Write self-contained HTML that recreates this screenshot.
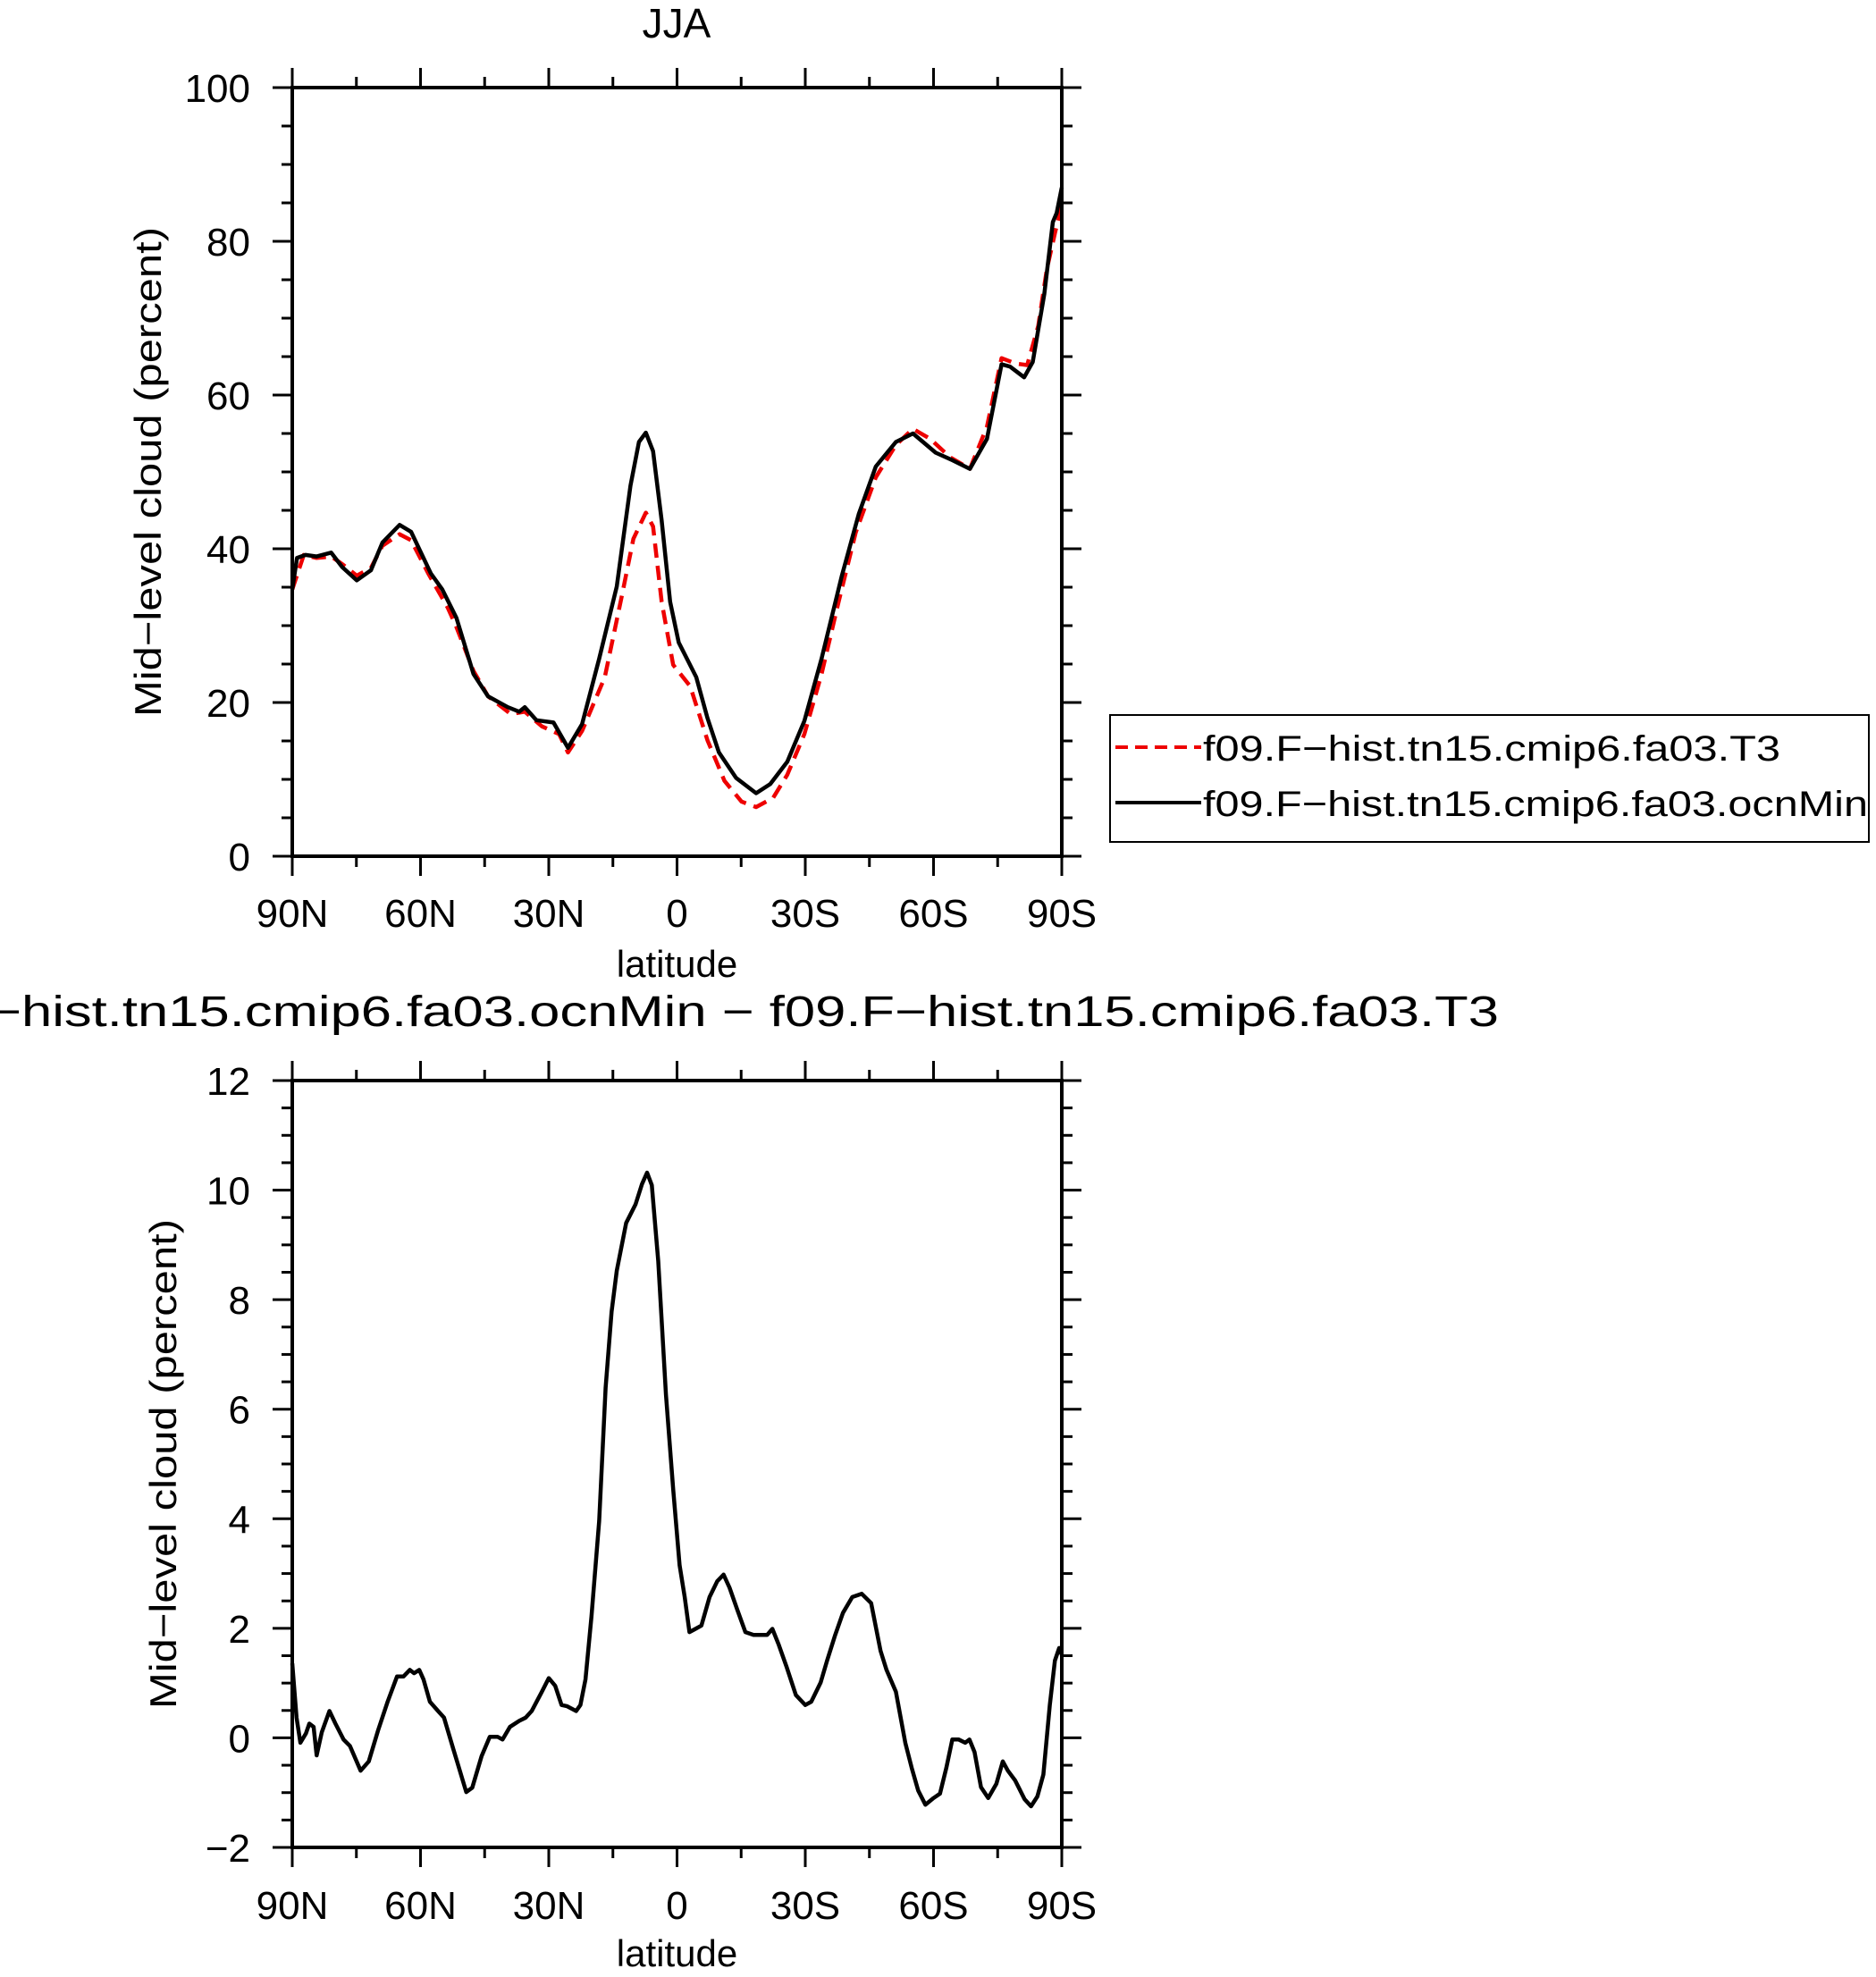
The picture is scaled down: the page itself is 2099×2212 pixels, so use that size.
<!DOCTYPE html>
<html><head><meta charset="utf-8"><style>
html,body{margin:0;padding:0;background:#fff;}
svg{display:block;}
text{font-family:"Liberation Sans",sans-serif;fill:#000;}
</style></head><body>
<svg id="fig" width="2099" height="2212" viewBox="0 0 2099 2212" xmlns="http://www.w3.org/2000/svg">
<g id="top"></g>
<g id="bot"></g>
<g id="legend">
  <rect x="1242" y="800" width="849" height="142" fill="none" stroke="#000" stroke-width="2"/>
  <line x1="1248" y1="836" x2="1344" y2="836" stroke="#e00" stroke-width="4" stroke-dasharray="14,8"/>
  <text x="1346" y="851" font-size="40" textLength="646" lengthAdjust="spacingAndGlyphs">f09.F−hist.tn15.cmip6.fa03.T3</text>
  <line x1="1248" y1="898" x2="1344" y2="898" stroke="#000" stroke-width="4"/>
  <text x="1346" y="913" font-size="40" textLength="744" lengthAdjust="spacingAndGlyphs">f09.F−hist.tn15.cmip6.fa03.ocnMin</text>
</g>
<text x="757" y="42" font-size="46" text-anchor="middle">JJA</text>
<text x="-12" y="1148" font-size="48" textLength="1689" lengthAdjust="spacingAndGlyphs">−hist.tn15.cmip6.fa03.ocnMin − f09.F−hist.tn15.cmip6.fa03.T3</text>
</svg>
<script>
// Top panel data
const topBlackLat = [90,88.9,86.9,84.3,80.9,78.3,74.9,71.6,68.9,64.9,62.2,57.6,54.9,51.6,47.6,44.2,39.6,36.9,35.6,32.9,28.9,25.5,22.2,18.2,14.1,10.9,8.9,7.3,5.6,3.6,1.6,-0.4,-4.5,-7.1,-9.8,-13.8,-18.5,-21.8,-25.8,-29.8,-33.8,-38.5,-42.5,-46.5,-51.2,-55.2,-60.5,-64.5,-68.5,-72.5,-75.9,-77.9,-81.2,-83.2,-85.9,-87.9,-88.8,-90];
const topBlackVal = [34.7,38.8,39.2,39,39.5,37.6,35.9,37.2,40.8,43.1,42.2,36.8,34.7,31,23.7,20.8,19.4,18.8,19.4,17.7,17.4,14.1,17.2,25.7,35.1,48.2,53.9,55.1,52.7,43.7,33.1,27.8,23.3,18,13.5,10.2,8.2,9.4,12.3,17.6,25.7,36.4,44.5,50.7,53.9,55,52.5,51.5,50.4,54.3,64,63.7,62.3,64.3,73.1,82.5,83.7,87];
const topRedLat = [90,87.3,84.3,80.9,78.3,74.9,71.6,68.9,64.9,62.2,58.2,53.6,51.6,47.6,44.2,38.9,35.6,31.6,27.6,25.5,22.2,16.9,12.9,10.2,7.3,5.6,3.6,0.9,-3.1,-7.1,-11.1,-15.1,-18.5,-22.5,-25.8,-29.8,-33.8,-37.8,-41.8,-46.5,-51.2,-55.2,-59.2,-63.9,-68.5,-72.5,-75.9,-79.2,-81.9,-84.5,-86.5,-88.5,-90];
const topRedVal = [34.7,39.2,38.8,39,38,36.5,37.5,40.4,41.9,41.1,36.8,32.3,29.8,24.1,20.8,18.5,18.8,16.9,15.9,13.5,16.3,23.3,33.9,41.3,44.7,42.9,33.1,24.9,22.1,15.1,9.8,7.1,6.4,7.6,10.6,15.9,23.7,33.1,42.1,49.3,53.5,55.6,54.3,51.9,50.4,55.9,64.8,64.1,63.9,69,76.4,81.3,84.6];
// Difference panel data
const diffLat = [90,89,88.1,86.8,86,85,84.3,83.1,81.3,79.9,78,76.5,74,72.1,69.9,67.7,65.5,64,62.5,61.5,60.3,59.3,57.8,55.9,54.5,52.3,49.3,47.9,45.7,43.8,42,40.8,39.1,36.9,35.4,34,31.7,30,28.5,27,25.8,23.6,22.6,21.4,20,18.2,16.7,15.3,14.1,11.9,9.7,8.2,7,5.9,4.4,2.6,0.9,-0.6,-1.8,-2.9,-4.3,-5.7,-7.6,-9.4,-10.9,-12.3,-14.1,-16,-17.9,-19.7,-21.1,-22.3,-23.8,-25.6,-27.8,-30,-31.4,-33.6,-35.1,-37,-38.8,-41,-43.2,-45.4,-47.6,-49,-51.2,-53.4,-54.9,-56.4,-58.1,-60,-61.5,-63,-64.4,-65.9,-67.4,-68.4,-69.6,-71.1,-72.8,-74.7,-76.2,-77.4,-79.1,-81.3,-82.8,-84.3,-85.7,-87.2,-88.4,-89.4,-90];
const diffVal = [1.36,0.37,-0.09,0.08,0.26,0.2,-0.32,0.1,0.49,0.26,-0.03,-0.15,-0.6,-0.43,0.14,0.66,1.12,1.12,1.24,1.18,1.24,1.07,0.66,0.49,0.37,-0.21,-0.99,-0.91,-0.33,0.02,0.02,-0.03,0.2,0.31,0.37,0.49,0.83,1.09,0.95,0.6,0.58,0.49,0.6,1.07,2.22,3.96,6.39,7.78,8.53,9.4,9.74,10.11,10.32,10.09,8.7,6.27,4.54,3.15,2.57,1.93,1.99,2.05,2.57,2.86,2.98,2.74,2.34,1.93,1.88,1.88,1.88,1.99,1.7,1.3,0.78,0.6,0.66,1.01,1.41,1.88,2.28,2.57,2.63,2.46,1.59,1.24,0.84,-0.09,-0.55,-0.96,-1.22,-1.1,-1.02,-0.55,-0.03,-0.03,-0.09,-0.03,-0.26,-0.9,-1.1,-0.84,-0.43,-0.6,-0.78,-1.12,-1.25,-1.07,-0.67,0.6,1.41,1.64,1.52];
const xTickLabels = ["90N","60N","30N","0","30S","60S","90S"];
const xTickLats = [90,60,30,0,-30,-60,-90];
const topYTicks = [0,20,40,60,80,100];
const botYTicks = [-2,0,2,4,6,8,10,12];

const NS = "http://www.w3.org/2000/svg";
function mk(parent, tag, attrs){
  const e = document.createElementNS(NS, tag);
  for (const k in attrs) e.setAttribute(k, attrs[k]);
  parent.appendChild(e);
  return e;
}
function panel(g, y0, y1, ymin, ymax, yTicks, minorStep, titleCx, labelBase, latBase){
  const X0 = 327, X1 = 1188;
  const xs = lat => X0 + (90 - lat) / 180 * (X1 - X0);
  const ys = v => y1 - (v - ymin) / (ymax - ymin) * (y1 - y0);
  for (let v = ymin; v <= ymax + 1e-9; v += minorStep) {
    const y = ys(v);
    const major = yTicks.some(t => Math.abs(t - v) < 1e-9);
    const len = major ? 22 : 12;
    const a = mk(g, "line", {x1: X0 - len, y1: y, x2: X0, y2: y, stroke: "#000", "stroke-width": 3});
    
    
    const b = mk(g, "line", {x1: X1, y1: y, x2: X1 + len, y2: y, stroke: "#000", "stroke-width": 3});
    
    
  }
  for (let lat = 90; lat >= -90; lat -= 15) {
    const x = xs(lat);
    const major = lat % 30 === 0;
    const len = major ? 22 : 12;
    const a = mk(g, "line", {x1: x, y1: y0 - len, x2: x, y2: y0, stroke: "#000", "stroke-width": 3});
    
    
    const b = mk(g, "line", {x1: x, y1: y1, x2: x, y2: y1 + len, stroke: "#000", "stroke-width": 3});
    
    
  }
  yTicks.forEach(t => {
    const tx = mk(g, "text", {x: 280, y: ys(t) + 16, "font-size": 44, "text-anchor": "end"});
    tx.textContent = (t < 0 ? "−" + Math.abs(t) : String(t));
    
    
  });
  xTickLabels.forEach((lb, i) => {
    const tx = mk(g, "text", {x: xs(xTickLats[i]), y: labelBase, "font-size": 44, "text-anchor": "middle"});
    tx.textContent = lb;
    
    
  });
  const xt = mk(g, "text", {x: (X0 + X1) / 2, y: latBase, "font-size": 42, "text-anchor": "middle"});
  xt.textContent = "latitude";
  
  
  const cy = (y0 + y1) / 2;
  const yt = mk(g, "text", {x: 0, y: 0, "font-size": 42, "text-anchor": "middle", transform: `translate(${titleCx},${cy}) rotate(-90)`, textLength: 548, lengthAdjust: "spacingAndGlyphs"});
  yt.textContent = "Mid−level cloud (percent)";
  
  
  return {xs, ys, X0, X1};
}
function series(g, ax, lats, vals, color, dash, name){
  const pts = lats.map((l, i) => ax.xs(l).toFixed(1) + "," + ax.ys(vals[i]).toFixed(1)).join(" ");
  const attrs = {points: pts, fill: "none", stroke: color, "stroke-width": 4.5, "stroke-linejoin": "round"};
  if (dash) attrs["stroke-dasharray"] = dash;
  const p = mk(g, "polyline", attrs);
  
  
}
function frame(g, ax, y0, y1){
  const r = mk(g, "rect", {x: ax.X0, y: y0, width: ax.X1 - ax.X0, height: y1 - y0, fill: "none", stroke: "#000", "stroke-width": 4});
  
  
}
const gt = document.getElementById("top");
const axT = panel(gt, 98, 958, 0, 100, topYTicks, 5, 180, 1037, 1093);
series(gt, axT, topRedLat, topRedVal, "#e00", "16,9", "series-t3");
series(gt, axT, topBlackLat, topBlackVal, "#000", null, "series-ocnmin");
frame(gt, axT, 98, 958);
const gb = document.getElementById("bot");
const axB = panel(gb, 1209, 2067, -2, 12, botYTicks, 0.5, 197, 2147, 2200);
series(gb, axB, diffLat, diffVal, "#000", null, "series-difference");
frame(gb, axB, 1209, 2067);
</script>
</body></html>
